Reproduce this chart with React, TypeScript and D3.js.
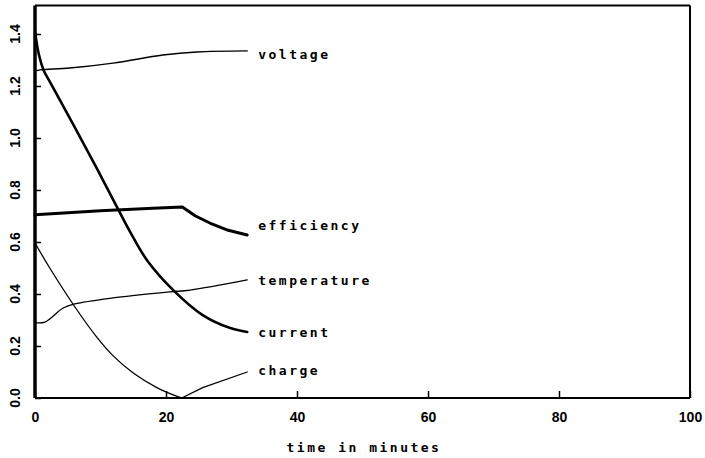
import React, { useEffect, useRef } from 'react';
import * as d3 from 'd3';

// series: [time in minutes, value]
const voltage: [number, number][] = [
  [0, 1.258], [0.8, 1.262], [5.3, 1.269], [11.9, 1.288], [19.5, 1.319], [24.7, 1.331], [32.4, 1.335],
];
const current: [number, number][] = [
  [0, 1.41], [0.6, 1.32], [1.3, 1.262], [2.3, 1.215], [6.1, 1.04], [9.5, 0.88], [12.5, 0.735], [14.5, 0.64],
  [17.1, 0.53], [21.1, 0.415], [25.6, 0.319], [29.8, 0.269], [32.4, 0.254],
];
const efficiency: [number, number][] = [
  [0, 0.705], [10, 0.72], [18, 0.73], [22.5, 0.735], [24.5, 0.7], [26.7, 0.673], [29.5, 0.645], [32.4, 0.627],
];
const temperature: [number, number][] = [
  [0, 0.29], [1.5, 0.292], [4.3, 0.346], [6.1, 0.362], [11.9, 0.385], [20.6, 0.408], [23.7, 0.415], [32.4, 0.454],
];
const chargeDown: [number, number][] = [
  [0, 0.596], [2.3, 0.498], [6.1, 0.35], [9.4, 0.235], [11.9, 0.163], [15, 0.096],
  [18.6, 0.04], [21.7, 0.006], [22.4, 0.0],
];
const chargeUp: [number, number][] = [
  [22.4, 0.0], [25.6, 0.04], [32.4, 0.1],
];

const xTicks = [0, 20, 40, 60, 80, 100];
const yTicks = [0, 0.2, 0.4, 0.6, 0.8, 1.0, 1.2, 1.4];

const W = 705;
const H = 458;
const labelFont = "'DejaVu Sans Mono', monospace";
const tickFont = "'Liberation Sans', Arial, sans-serif";

export default function App() {
  const gx = useRef<SVGGElement>(null);
  const gy = useRef<SVGGElement>(null);

  const x = d3.scaleLinear().domain([0, 100]).range([35, 690]);
  const y = d3.scaleLinear().domain([0, 1.51]).range([398, 5.4]);

  const smooth = d3.line<[number, number]>()
    .x(d => x(d[0]))
    .y(d => y(d[1]))
    .curve(d3.curveCatmullRom.alpha(0.5));
  const straight = d3.line<[number, number]>()
    .x(d => x(d[0]))
    .y(d => y(d[1]));

  const series = [
    { name: 'voltage', path: smooth(voltage), end: voltage[voltage.length - 1], width: 1.4, dy: 4 },
    { name: 'efficiency', path: straight(efficiency), end: efficiency[efficiency.length - 1], width: 3, dy: -10 },
    { name: 'temperature', path: smooth(temperature), end: temperature[temperature.length - 1], width: 1.3, dy: 0 },
    { name: 'current', path: smooth(current), end: current[current.length - 1], width: 2.6, dy: 0 },
    { name: 'charge', path: (smooth(chargeDown) || '') + (straight(chargeUp) || ''), end: chargeUp[chargeUp.length - 1], width: 1.3, dy: -2 },
  ];

  useEffect(() => {
    const ax = d3.select(gx.current!);
    ax.selectAll('*').remove();
    ax.call(d3.axisBottom(x).tickValues(xTicks).tickSize(-7).tickPadding(14).tickFormat(d3.format('d')));
    ax.select('.domain').remove();
    ax.selectAll('line').attr('stroke', '#000').attr('stroke-width', 1.5);
    ax.selectAll('text')
      .attr('fill', '#000')
      .style('font-family', tickFont)
      .style('font-size', '14px')
      .style('font-weight', 'bold');

    const ay = d3.select(gy.current!);
    ay.selectAll('*').remove();
    ay.call(d3.axisLeft(y).tickValues(yTicks).tickSize(-6).tickFormat(() => ''));
    ay.select('.domain').remove();
    ay.selectAll('line').attr('stroke', '#000').attr('stroke-width', 1.5);
  }, []);

  return (
    <svg width={W} height={H} style={{ position: 'absolute', left: 0, top: 0, background: '#fff' }}>
      <rect x={0} y={0} width={W} height={H} fill="#fff" />
      <line x1={x(0)} x2={x(100)} y1={y(1.51)} y2={y(1.51)} stroke="#000" strokeWidth={2} />
      <line x1={x(100)} x2={x(100)} y1={y(1.51)} y2={y(0)} stroke="#000" strokeWidth={2} />
      <line x1={x(0)} x2={x(100)} y1={y(0)} y2={y(0)} stroke="#000" strokeWidth={2.2} />
      <line x1={x(0)} x2={x(0)} y1={y(1.51)} y2={y(0)} stroke="#000" strokeWidth={3.5} />
      <g ref={gx} transform={`translate(0,${y(0)})`} />
      <g ref={gy} transform={`translate(${x(0)},0)`} />
      {yTicks.map(t => (
        <text key={t} transform={`translate(15,${y(t)}) rotate(-90)`} dy="0.35em" textAnchor="middle"
          fontFamily={tickFont} fontSize={14} fontWeight="bold" fill="#000">
          {d3.format('.1f')(t)}
        </text>
      ))}
      {series.map(s => (
        <path key={s.name} d={s.path || ''} fill="none" stroke="#000"
          strokeWidth={s.width} strokeLinejoin="round" strokeLinecap="round" />
      ))}
      {series.map(s => (
        <text key={s.name + '-l'} x={x(s.end[0]) + 11} y={y(s.end[1]) + s.dy} dy="0.35em"
          fontFamily={labelFont} fontWeight="bold" fontSize={13} letterSpacing={2.5} fill="#000">
          {s.name}
        </text>
      ))}
      <text x={364} y={447} dy="0.35em" textAnchor="middle" fontFamily={labelFont}
        fontWeight="bold" fontSize={13} letterSpacing={2.5} fill="#000">
        time in minutes
      </text>
    </svg>
  );
}
